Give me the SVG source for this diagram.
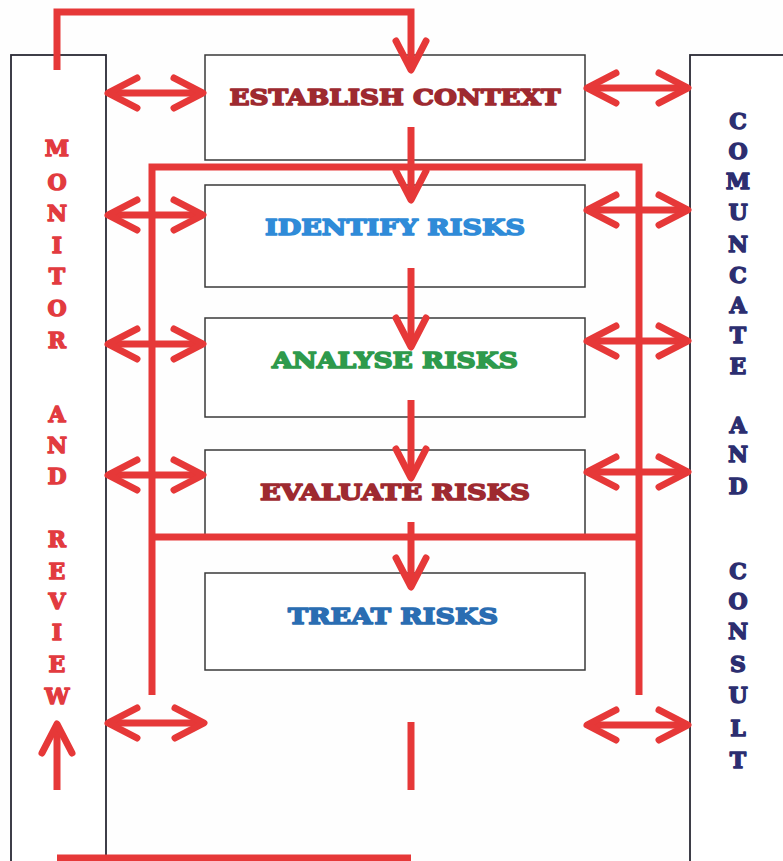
<svg xmlns="http://www.w3.org/2000/svg" width="783" height="861" viewBox="0 0 783 861">
<defs>
<marker id="ah" markerUnits="userSpaceOnUse" viewBox="-40 -25 50 50" markerWidth="50" markerHeight="50" refX="0" refY="0" orient="auto-start-reverse" overflow="visible">
<path d="M-29,-15 L0,0 L-29,15" fill="none" stroke="#e63838" stroke-width="7" stroke-linecap="round" stroke-linejoin="round"/>
</marker>
<style>
.box{fill:#fff;stroke:#3a3a3a;stroke-width:1.5}
.side{fill:#fff;stroke:#2a2a35;stroke-width:1.8}
.lbl{font-family:"DejaVu Serif","Liberation Serif",serif;font-weight:bold;font-size:23px;text-anchor:middle;stroke-width:1.6;stroke-linejoin:round}
.vl{font-family:"DejaVu Serif","Liberation Serif",serif;font-weight:bold;font-size:22px;text-anchor:middle;stroke-width:1.4;stroke-linejoin:round}
.red{fill:#e23b3f;stroke:#e23b3f}
.navy{fill:#2c2e70;stroke:#2c2e70}
.ln{fill:none;stroke:#e63838;stroke-width:7}
.arr{fill:none;stroke:#e63838;stroke-width:7;marker-end:url(#ah)}
.dbl{fill:none;stroke:#e63838;stroke-width:7;marker-start:url(#ah);marker-end:url(#ah)}
</style>
</defs>
<rect width="783" height="861" fill="#fefefe"/>

<g id="monitor-review">
<rect class="side" x="11" y="55" width="95" height="820"/>
<g class="vl red">
<text x="57" y="156">M</text>
<text x="57" y="190">O</text>
<text x="57" y="221">N</text>
<text x="57" y="253">I</text>
<text x="57" y="284">T</text>
<text x="57" y="316">O</text>
<text x="57" y="348">R</text>
<text x="57" y="422">A</text>
<text x="57" y="453">N</text>
<text x="57" y="484">D</text>
<text x="57" y="547">R</text>
<text x="57" y="579">E</text>
<text x="57" y="609">V</text>
<text x="57" y="640">I</text>
<text x="57" y="672">E</text>
<text x="57" y="704">W</text>
</g>
</g>

<g id="communicate-consult">
<rect class="side" x="690" y="55" width="110" height="820"/>
<g class="vl navy">
<text x="738" y="129">C</text>
<text x="738" y="159">O</text>
<text x="738" y="189">M</text>
<text x="738" y="220">U</text>
<text x="738" y="252">N</text>
<text x="738" y="283">C</text>
<text x="738" y="313">A</text>
<text x="738" y="343">T</text>
<text x="738" y="374">E</text>
<text x="738" y="433">A</text>
<text x="738" y="462">N</text>
<text x="738" y="494">D</text>
<text x="738" y="579">C</text>
<text x="738" y="609">O</text>
<text x="738" y="639">N</text>
<text x="738" y="672">S</text>
<text x="738" y="703">U</text>
<text x="738" y="736">L</text>
<text x="738" y="768">T</text>
</g>
</g>

<g id="establish-context">
<rect class="box" x="205" y="55" width="380" height="105"/>
<text class="lbl" x="395" y="105" fill="#9e2a30" stroke="#9e2a30" textLength="331" lengthAdjust="spacingAndGlyphs">ESTABLISH CONTEXT</text>
</g>
<g id="identify-risks">
<rect class="box" x="205" y="185" width="380" height="102"/>
<text class="lbl" x="395" y="235" fill="#2f8bd8" stroke="#2f8bd8" textLength="260" lengthAdjust="spacingAndGlyphs">IDENTIFY RISKS</text>
</g>
<g id="analyse-risks">
<rect class="box" x="205" y="318" width="380" height="99"/>
<text class="lbl" x="395" y="368" fill="#2e9a4c" stroke="#2e9a4c" textLength="246" lengthAdjust="spacingAndGlyphs">ANALYSE RISKS</text>
</g>
<g id="evaluate-risks">
<rect class="box" x="205" y="450" width="380" height="87"/>
<text class="lbl" x="395" y="500" fill="#9e2a30" stroke="#9e2a30" textLength="270" lengthAdjust="spacingAndGlyphs">EVALUATE RISKS</text>
</g>
<g id="treat-risks">
<rect class="box" x="205" y="573" width="380" height="97"/>
<text class="lbl" x="393" y="624" fill="#2a6db2" stroke="#2a6db2" textLength="210" lengthAdjust="spacingAndGlyphs">TREAT RISKS</text>
</g>

<g id="connectors">
<path class="ln" d="M152,695 V167 H639 V695"/>
<path class="ln" d="M152,537 H639"/>
<path class="arr" d="M57,70 V12 H411 V70"/>
<path class="arr" d="M411,127 V200"/>
<path class="arr" d="M411,268 V347"/>
<path class="arr" d="M411,400 V478"/>
<path class="arr" d="M411,522 V587"/>
<path class="ln" d="M411,722 V790"/>
<path class="arr" d="M57,790 V724"/>
<path class="ln" d="M57,858 H411"/>
<path class="dbl" d="M108,93 H203"/>
<path class="dbl" d="M108,215 H203"/>
<path class="dbl" d="M108,344 H203"/>
<path class="dbl" d="M108,475 H203"/>
<path class="dbl" d="M108,723 H204"/>
<path class="dbl" d="M587,88 H688"/>
<path class="dbl" d="M587,210 H688"/>
<path class="dbl" d="M587,341 H688"/>
<path class="dbl" d="M587,472 H688"/>
<path class="dbl" d="M587,725 H688"/>
</g>
</svg>
